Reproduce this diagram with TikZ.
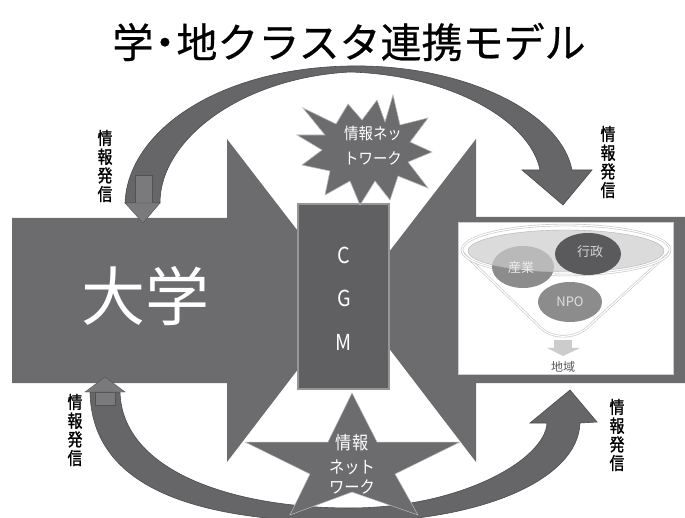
\documentclass[tikz,border=0pt]{standalone}
\usepackage{fontspec}
\setmainfont{Noto Sans CJK JP}
\newfontfamily\labfont[FakeBold=1.3,FakeStretch=0.85]{Noto Sans CJK JP}
\newfontfamily\titlefont[FakeBold=0.5]{Noto Sans CJK JP}
\newfontfamily\narrowfont[FakeStretch=0.9]{Noto Sans CJK JP}
\definecolor{agray}{RGB}{108,108,111}
\definecolor{cgmgray}{RGB}{96,96,99}
\definecolor{cgmedge}{RGB}{150,150,150}
\definecolor{arcgray}{RGB}{102,102,105}
\definecolor{smallgray}{RGB}{122,122,125}
\definecolor{circgray}{RGB}{140,140,140}
\definecolor{darkcirc}{RGB}{90,90,92}
\definecolor{rimgray}{RGB}{205,205,205}
\begin{document}
\begin{tikzpicture}[x=1pt,y=-1pt,
  bigarrow/.style={fill=agray, draw=none},
  arcarrow/.style={fill=arcgray, draw=arcgray!75!black, line width=0.6pt},
  smallarrow/.style={fill=smallgray, draw=arcgray!80!black, line width=0.4pt},
  vlabel/.style={font=\labfont\fontsize{17.5}{18.7}\selectfont, align=center, inner sep=0pt, text=black},
  wlabel/.style={text=white, inner sep=0pt},
  funnelline/.style={draw=gray!45, double=white, double distance=1.2pt, line width=0.6pt}]
\clip (0,0) rectangle (685,518);
\fill[white] (0,0) rectangle (685,518);

% title
\node[font=\titlefont\fontsize{41}{41}\selectfont, inner sep=0pt] (title) at (349,42) {学\kern-9pt・\kern-9pt地クラスタ連携モデル};

% top curved arrow
\path[arcarrow] (125,203) .. controls (128,130) and (220,68) .. (350,66)
  .. controls (460,64) and (560,110) .. (572,170) -- (592,170) -- (563,205) -- (522,170) -- (540,170)
  .. controls (530,120) and (450,75) .. (350,72)
  .. controls (240,78) and (160,140) .. (160,203) -- cycle;

% bottom curved arrow
\path[arcarrow] (90,392) .. controls (92,490) and (200,522) .. (350,522)
  .. controls (480,522) and (578,480) .. (580,423) -- (597,422) -- (570,390) -- (530,423) -- (547,423)
  .. controls (545,460) and (460,508) .. (350,508)
  .. controls (230,508) and (122,470) .. (120,392) -- cycle;

% big arrows
\path[bigarrow] (12,218) -- (227,218) -- (227,139) -- (351,300) -- (227,462) -- (227,383) -- (12,383) -- cycle;
\path[bigarrow] (685,217) -- (476,217) -- (476,139) -- (352,300) -- (476,462) -- (476,383) -- (685,383) -- cycle;

% small arrows at the left ends of the curved arrows
\path[smallarrow] (135,175) rectangle (152,203);
\path[smallarrow] (125,203) -- (160,203) -- (143,223) -- cycle;
\path[smallarrow] (95,392) rectangle (115,405);
\path[smallarrow] (85,392) -- (105,377) -- (125,392) -- cycle;

% white box with funnel
\path[draw=gray!40, fill=white] (458,222) rectangle (673,374);
\path[funnelline] (462,252) -- (538,325) .. controls (550,340) and (576,340) .. (590,325) -- (670,252);
\path[funnelline] (566,250) ellipse [x radius=104, y radius=25];
\fill[circgray] (523,267) ellipse [x radius=31, y radius=21];
\path[fill=rimgray, fill opacity=0.7, draw=gray!60] (566,251) ellipse [x radius=98, y radius=21];
\fill[darkcirc] (588,254) ellipse [x radius=33, y radius=21];
\fill[circgray] (570,302) ellipse [x radius=32, y radius=20];
\node[font=\fontsize{13}{13}\selectfont, text=gray!15, inner sep=0pt] (sangyo) at (521,268) {産業};
\node[font=\fontsize{13}{13}\selectfont, text=gray!35, inner sep=0pt] (gyosei) at (590,252) {行政};
\node[font=\fontsize{13}{13}\selectfont, text=gray!25, inner sep=0pt] (npo) at (570,302) {NPO};
\fill[gray!40] (554,340) rectangle (572,348);
\fill[gray!40] (547,348) -- (580,348) -- (563,356) -- cycle;
\node[font=\fontsize{12}{12}\selectfont, text=gray!70!black, inner sep=0pt] (chiiki) at (563,367) {地域};

% CGM box
\path[fill=cgmgray, draw=cgmedge, line width=1.2pt] (298,204) rectangle (389,389);
\node[wlabel, font=\narrowfont\fontsize{22}{22}\selectfont] (c) at (344,255) {C};
\node[wlabel, font=\narrowfont\fontsize{22}{22}\selectfont] (g) at (344,298) {G};
\node[wlabel, font=\narrowfont\fontsize{22}{22}\selectfont] (m) at (344,342) {M};

% explosion
\path[fill=agray, draw=gray!55, line width=0.6pt]
  (303,108) -- (336,124) -- (348,104) -- (362,120) -- (377,100) -- (385,122) -- (393,95)
  -- (400,125) -- (428,118) -- (410,142) -- (432,152) -- (408,162) -- (428,188) -- (398,176)
  -- (390,200) -- (375,181) -- (360,205) -- (350,181) -- (325,195) -- (330,171) -- (302,165)
  -- (322,150) -- (297,135) -- (325,135) -- cycle;
\node[wlabel, font=\narrowfont\fontsize{16}{16}\selectfont] (net1a) at (373,133) {情報ネッ};
\node[wlabel, font=\narrowfont\fontsize{16}{16}\selectfont] (net1b) at (373,158) {トワーク};

% star
\path[fill=agray, draw=gray!55, line width=0.5pt]
  (352,393) -- (377,442) -- (460,442) -- (395,474) -- (418,515) -- (352,492)
  -- (290,515) -- (310,474) -- (245,442) -- (328,442) -- cycle;
\node[wlabel, font=\narrowfont\fontsize{18}{18}\selectfont] (net2a) at (352,443) {情報};
\node[wlabel, font=\narrowfont\fontsize{17}{17}\selectfont] (net2b) at (352,467) {ネット};
\node[wlabel, font=\narrowfont\fontsize{17}{17}\selectfont] (net2c) at (352,487) {ワーク};

% university
\node[wlabel, font=\fontsize{64}{64}\selectfont] (daigaku) at (145,296) {大学};

% vertical labels
\node[vlabel] (lab1) at (105,166) {情\\報\\発\\信};
\node[vlabel] (lab2) at (608,162) {情\\報\\発\\信};
\node[vlabel] (lab3) at (75,430) {情\\報\\発\\信};
\node[vlabel] (lab4) at (617,435) {情\\報\\発\\信};
\end{tikzpicture}
\end{document}
